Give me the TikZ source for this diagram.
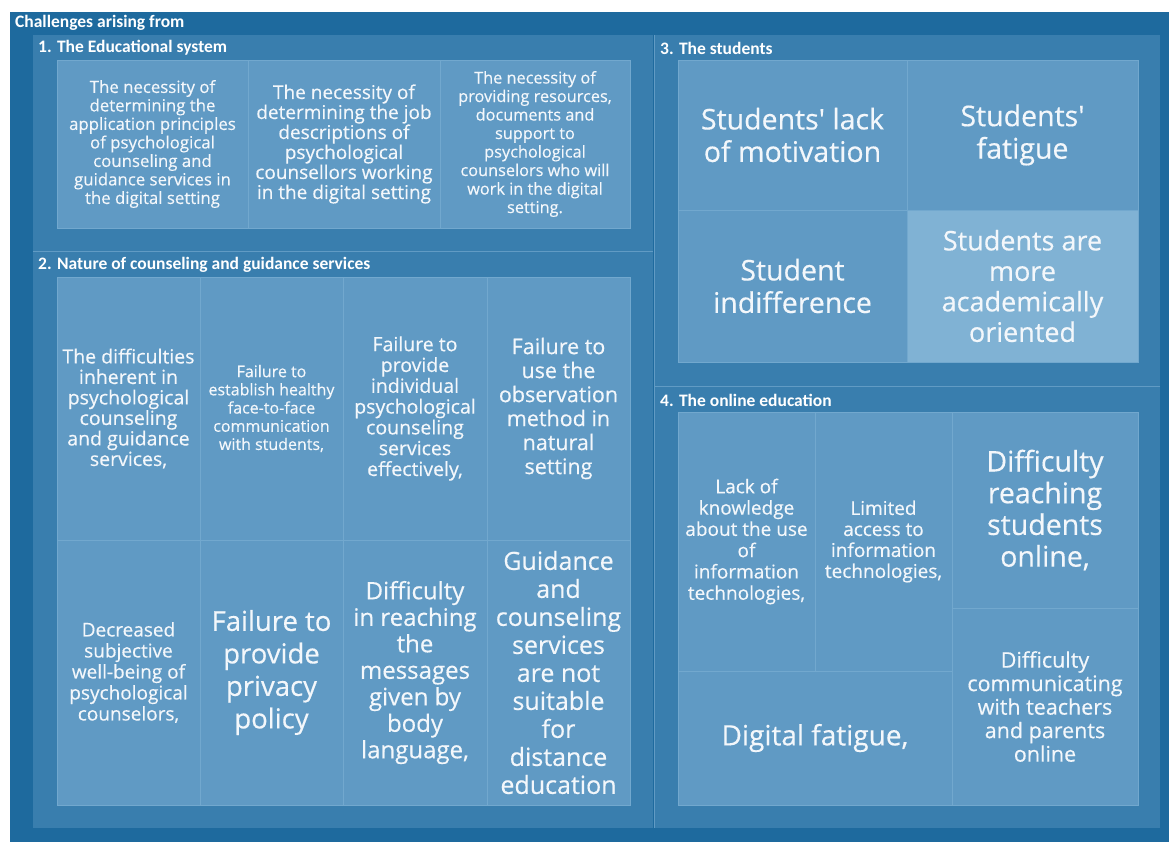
\documentclass[tikz,border=0pt]{standalone}
\usepackage{fontspec}
\newfontfamily\os[FakeBold=0.4]{Open Sans}
\newfontfamily\ttl{Carlito}
\definecolor{outerc}{RGB}{30,106,158}
\definecolor{secc}{RGB}{57,126,174}
\definecolor{cellc}{RGB}{96,154,196}
\definecolor{hic}{RGB}{128,178,212}
\definecolor{linec}{RGB}{114,168,206}
\definecolor{txtc}{RGB}{243,247,251}
\begin{document}
\begin{tikzpicture}[x=1pt,y=-1pt,
  outerbox/.style={fill=outerc},
  secbox/.style={fill=secc},
  cellbox/.style={fill=cellc, draw=linec, line width=0.8pt},
  hibox/.style={fill=hic, draw=linec, line width=0.8pt},
  sepline/.style={draw=linec!70!secc, line width=0.8pt},
  title/.style={text=white, font=\ttl\bfseries\fontsize{17.5}{18}\selectfont, anchor=west, inner sep=0pt},
  lbl/.style={text=txtc, align=center, inner sep=0pt},
  sz/.style 2 args={font=\os\fontsize{#1}{#2}\selectfont}
]
\useasboundingbox (0,0) rectangle (1171,843);
\fill[white] (0,0) rectangle (1171,843);
\path[outerbox] (10,12) rectangle (1169,842);
% sections
\path[secbox] (33,35) rectangle (653,250.5);
\path[secbox] (33,251.5) rectangle (653,828);
\path[secbox] (655,35) rectangle (1160,386);
\path[secbox] (655,387) rectangle (1160,828);
\draw[sepline] (33,251) -- (653,251);
\draw[sepline] (654,35) -- (654,828);
\draw[sepline] (655,386.5) -- (1160,386.5);
% titles
\node[title] (tmain) at (15,23) {Challenges arising from};
\node[title] (t1) at (38,48) {1. The Educational system};
\node[title] (t2) at (38,265) {2. Nature of counseling and guidance services};
\node[title] (t3) at (660,48) {3. The students};
\node[title] (t4) at (660,400) {4. The online education};
% section 1 cells
\path[cellbox] (57,60) rectangle (248,228);
\path[cellbox] (248,60) rectangle (440,228);
\path[cellbox] (440,60) rectangle (630,228);
\node[lbl, sz={16.8}{18.5}] (c1) at (152.5,144) {The necessity of\\determining the\\application principles\\of psychological\\counseling and\\guidance services in\\the digital setting};
\node[lbl, sz={19}{20}] (c2) at (344,144) {The necessity of\\determining the job\\descriptions of\\psychological\\counsellors working\\in the digital setting};
\node[lbl, sz={16.3}{18.5}] (c3) at (535,144) {The necessity of\\providing resources,\\documents and\\support to\\psychological\\counselors who will\\work in the digital\\setting.};
% section 2 cells
\path[cellbox] (57,277) rectangle (200,540);
\path[cellbox] (200,277) rectangle (343,540);
\path[cellbox] (343,277) rectangle (487,540);
\path[cellbox] (487,277) rectangle (630,540);
\path[cellbox] (57,540) rectangle (200,805);
\path[cellbox] (200,540) rectangle (343,805);
\path[cellbox] (343,540) rectangle (487,805);
\path[cellbox] (487,540) rectangle (630,805);
\node[lbl, sz={19.5}{20.5}] (d1) at (128.5,408.5) {The difficulties\\inherent in\\psychological\\counseling\\and guidance\\services,};
\node[lbl, sz={16}{18.2}] (d2) at (271.5,408.5) {Failure to\\establish healthy\\face-to-face\\communication\\with students,};
\node[lbl, sz={19.5}{20.8}] (d3) at (415,408.5) {Failure to\\provide\\individual\\psychological\\counseling\\services\\effectively,};
\node[lbl, sz={21.5}{24}] (d4) at (558.5,408.5) {Failure to\\use the\\observation\\method in\\natural\\setting};
\node[lbl, sz={19}{21}] (d5) at (128.5,672.5) {Decreased\\subjective\\well-being of\\psychological\\counselors,};
\node[lbl, sz={27.5}{32.5}] (d6) at (271.5,672.5) {Failure to\\provide\\privacy\\policy};
\node[lbl, sz={24}{26.5}] (d7) at (415,672.5) {Difficulty\\in reaching\\the\\messages\\given by\\body\\language,};
\node[lbl, sz={25}{28}] (d8) at (558.5,672.5) {Guidance\\and\\counseling\\services\\are not\\suitable\\for\\distance\\education};
% section 3 cells
\path[cellbox] (678,60) rectangle (907,210);
\path[cellbox] (907,60) rectangle (1138,210);
\path[cellbox] (678,210) rectangle (907,362);
\path[hibox] (907,210) rectangle (1138,362);
\node[lbl, sz={28.5}{32.5}] (s1) at (792.5,135) {Students' lack\\of motivation};
\node[lbl, sz={28.5}{32.5}] (s2) at (1022.5,135) {Students'\\fatigue};
\node[lbl, sz={28.5}{32.5}] (s3) at (792.5,286) {Student\\indifference};
\node[lbl, sz={27}{30.5}] (s4) at (1022.5,286) {Students are\\more\\academically\\oriented};
% section 4 cells
\path[cellbox] (678,412) rectangle (815,671);
\path[cellbox] (815,412) rectangle (952,671);
\path[cellbox] (678,671) rectangle (952,805);
\path[cellbox] (952,412) rectangle (1138,608);
\path[cellbox] (952,608) rectangle (1138,805);
\node[lbl, sz={19}{21.3}] (o1) at (746.5,541.5) {Lack of\\knowledge\\about the use\\of\\information\\technologies,};
\node[lbl, sz={19}{21}] (o2) at (883.5,541.5) {Limited\\access to\\information\\technologies,};
\node[lbl, sz={28.5}{31.7}] (o3) at (1045,510) {Difficulty\\reaching\\students\\online,};
\node[lbl, sz={21.5}{23.5}] (o4) at (1045,706.5) {Difficulty\\communicating\\with teachers\\and parents\\online};
\node[lbl, sz={28}{32}] (o5) at (815,738) {Digital fatigue,};
\end{tikzpicture}
\end{document}
